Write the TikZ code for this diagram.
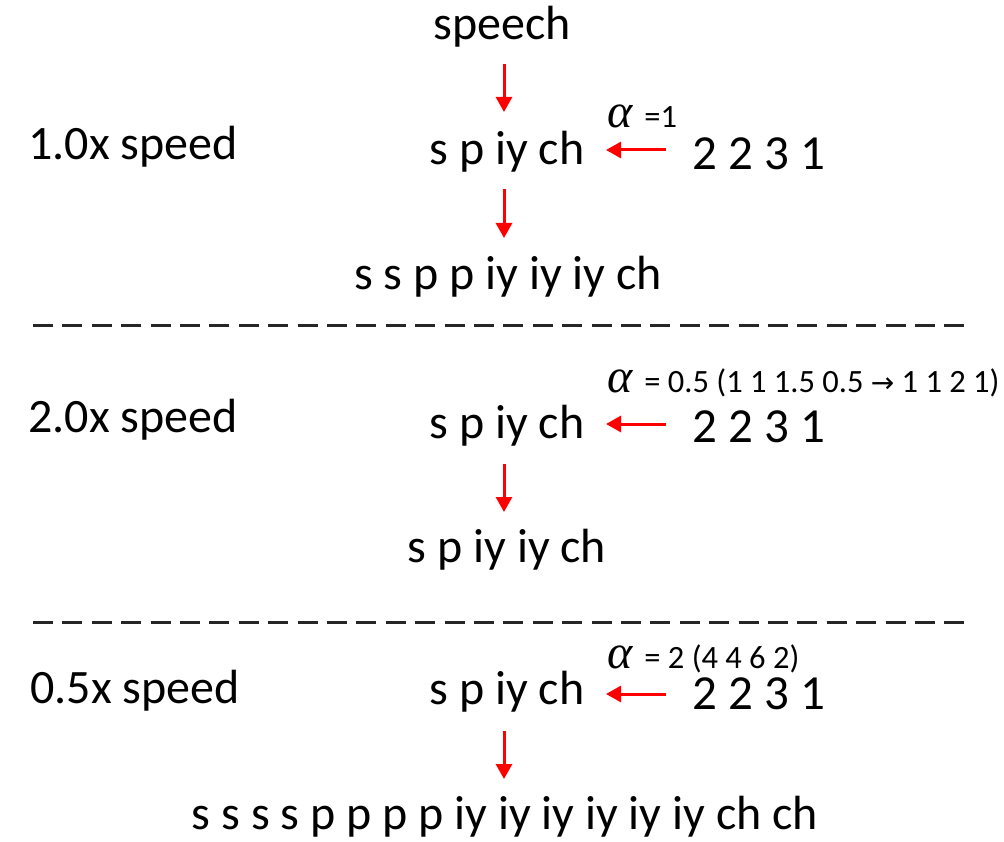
\documentclass[tikz,border=0pt]{standalone}
\usepackage{fontspec}
\setmainfont{Carlito}
\newfontfamily\symfont{DejaVu Sans}
\newfontfamily\greekfont{Liberation Serif}
\usetikzlibrary{arrows.meta}
\newcommand{\bigalpha}{{\greekfont\itshape\fontsize{48}{48}\selectfont α}\hspace{12pt}}
\begin{document}
\begin{tikzpicture}[x=1pt,y=-1pt,
  big/.style={inner sep=0pt,font=\fontsize{48}{52}\selectfont},
  num/.style={inner sep=0pt,font=\fontsize{49}{53}\selectfont},
  small/.style={inner sep=0pt,font=\fontsize{32.5}{35}\selectfont,anchor=west},
  redarrow/.style={red,line width=3pt,-{Triangle[width=16pt,length=15pt]}},
  sep/.style={black!85,line width=3pt,dash pattern=on 20pt off 9.4pt}]
\useasboundingbox (0,0) rectangle (1004,842);
% row 1
\node[big] (speech) at (502,27) {speech};
\node[big] (lab1) at (133,147) {1.0x speed};
\node[big] (ph1) at (507,152) {s p iy ch};
\node[num] (d1) at (759,154) {2 2 3 1};
\node[small] (a1) at (607,116) {\bigalpha=1};
\node[big] (out1) at (508,277) {s s p p iy iy iy ch};
\coordinate (s1a) at (504,64);
\coordinate (s1b) at (504,112);
\coordinate (s2a) at (504,189);
\coordinate (s2b) at (504,238);
\coordinate (l1a) at (666,150);
\coordinate (l1b) at (606,150);
\draw[redarrow] (s1a) -- (s1b);
\draw[redarrow] (s2a) -- (s2b);
\draw[redarrow] (l1a) -- (l1b);
% separator 1
\coordinate (sepA1) at (33,326);
\coordinate (sepB1) at (973,326);
\draw[sep] (sepA1) -- (sepB1);
% row 2
\node[small] (a2) at (607,383) {\bigalpha= 0.5 (1 1 1.5 0.5 {\symfont\fontsize{28}{30}\selectfont →} 1 1 2 1)};
\node[big] (lab2) at (133,420) {2.0x speed};
\node[big] (ph2) at (507,426) {s p iy ch};
\node[num] (d2) at (759,427) {2 2 3 1};
\node[big] (out2) at (507,550) {s p iy iy ch};
\coordinate (l2a) at (666,424);
\coordinate (l2b) at (606,424);
\coordinate (s3a) at (504,464);
\coordinate (s3b) at (504,512);
\draw[redarrow] (l2a) -- (l2b);
\draw[redarrow] (s3a) -- (s3b);
% separator 2
\coordinate (sepA2) at (33,622);
\coordinate (sepB2) at (973,622);
\draw[sep] (sepA2) -- (sepB2);
% row 3
\node[small] (a3) at (607,659) {\bigalpha= 2 (4 4 6 2)};
\node[big] (lab3) at (135,691) {0.5x speed};
\node[big] (ph3) at (507,692) {s p iy ch};
\node[num] (d3) at (759,694) {2 2 3 1};
\node[big] (out3) at (505,817) {s s s s p p p p iy iy iy iy iy iy ch ch};
\coordinate (l3a) at (666,694);
\coordinate (l3b) at (606,694);
\coordinate (s4a) at (504,731);
\coordinate (s4b) at (504,779);
\draw[redarrow] (l3a) -- (l3b);
\draw[redarrow] (s4a) -- (s4b);
\end{tikzpicture}
\end{document}
